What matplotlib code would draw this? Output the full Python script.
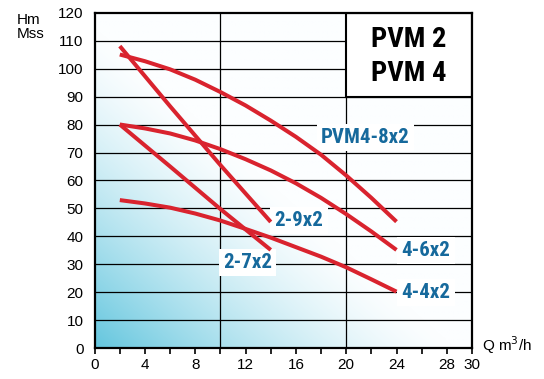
import numpy as np
import matplotlib
matplotlib.use("Agg")
import matplotlib.pyplot as plt
from matplotlib.patches import Rectangle

# ---------------- data ----------------
q_8x2 = [2, 4, 6, 8, 10, 12, 14, 16, 18, 20, 22, 24]
h_8x2 = [105, 102.6, 99.7, 96, 91.6, 86.8, 81.4, 75.6, 69.2, 61.8, 53.8, 45.3]

q_6x2 = [2, 4, 6, 8, 10, 12, 14, 16, 18, 20, 22, 24]
h_6x2 = [80, 78.6, 76.8, 74.3, 71.2, 67.6, 63.6, 59.0, 53.8, 48.0, 41.8, 35.2]

q_4x2 = [2, 4, 6, 8, 10, 12, 14, 16, 18, 20, 22, 24]
h_4x2 = [53, 51.8, 50.3, 48.2, 45.7, 42.7, 39.6, 36.2, 32.8, 29.0, 24.7, 20.3]

q_9x2 = [2, 6, 10, 14]
h_9x2 = [108, 86.5, 65.5, 45.2]

q_7x2 = [2, 6, 10, 14]
h_7x2 = [80, 65, 49.8, 35.2]

curve_labels = ["PVM4-8x2", "4-6x2", "4-4x2", "2-9x2", "2-7x2"]
label_xy = [(18.0, 75.4), (24.4, 35.0), (24.4, 20.0), (14.3, 45.6), (10.2, 30.7)]

x_ticks = [0, 4, 8, 12, 16, 20, 24, 28, 30]
x_minor = [2, 6, 10, 14, 18, 22, 26]
y_ticks = list(range(0, 121, 10))

RED = "#d9232e"
BLUE = "#16699c"
NARROW = ["Roboto Condensed", "DejaVu Sans"]

plt.rcParams["font.family"] = ["Liberation Sans", "DejaVu Sans"]

fig = plt.figure(figsize=(5.44, 3.79), dpi=100)
ax = fig.add_axes([0.174, 0.0805, 0.6936, 0.8865])

# background gradient (cyan in the bottom-left corner, fading to white)
gx, gy = np.meshgrid(np.linspace(0, 1, 300), np.linspace(0, 1, 300))
f = np.clip(1.0 - (gx + gy) / 0.95, 0, 1) ** 1.4
c0 = np.array([252, 254, 255]) / 255.0
c1 = np.array([100, 198, 222]) / 255.0
img = c0[None, None, :] + (c1 - c0)[None, None, :] * f[:, :, None]
ax.imshow(img, extent=[0, 30, 0, 120], origin="lower", aspect="auto", zorder=0)

ax.set_xlim(0, 30)
ax.set_ylim(0, 120)

# grid
for yv in y_ticks[1:-1]:
    ax.axhline(yv, color="black", lw=0.9, zorder=1)
for xv in (10, 20):
    ax.axvline(xv, color="black", lw=0.9, zorder=1)

# title box
ax.add_patch(Rectangle((20, 90), 10, 30, facecolor="white", edgecolor="black",
                       lw=1.5, zorder=4))
ax.text(25, 110.5, "PVM 2", ha="center", va="center", fontsize=20.5,
        fontweight="bold", family=NARROW, zorder=5)
ax.text(25, 98.3, "PVM 4", ha="center", va="center", fontsize=20.5,
        fontweight="bold", family=NARROW, zorder=5)

# curves
for q, h in [(q_8x2, h_8x2), (q_6x2, h_6x2), (q_4x2, h_4x2),
             (q_9x2, h_9x2), (q_7x2, h_7x2)]:
    ax.plot(q, h, color=RED, lw=2.9, solid_capstyle="butt", zorder=3)

for txt, (lx, ly) in zip(curve_labels, label_xy):
    ax.text(lx, ly, txt, ha="left", va="center", color=BLUE, fontsize=15,
            fontweight="bold", family=NARROW, zorder=2,
            bbox=dict(facecolor="white", edgecolor="none", pad=3))

# axes styling
for s in ax.spines.values():
    s.set_linewidth(1.6)
    s.set_zorder(6)
ax.set_xticks(x_ticks)
ax.set_xticks(x_minor, minor=True)
ax.set_yticks(y_ticks)
ax.tick_params(axis="x", which="both", direction="out", length=4.5, width=1.2,
               labelsize=11, pad=2)
ax.tick_params(axis="y", length=0, labelsize=11, pad=8)

fig.text(0.031, 0.947, "Hm", fontsize=11, ha="left", va="center")
fig.text(0.031, 0.909, "Mss", fontsize=11, ha="left", va="center")
ax.text(30.8, -1.0, r"Q m$^3$/h", fontsize=11, ha="left", va="baseline",
        clip_on=False)

fig.savefig("out.png", dpi=100)
